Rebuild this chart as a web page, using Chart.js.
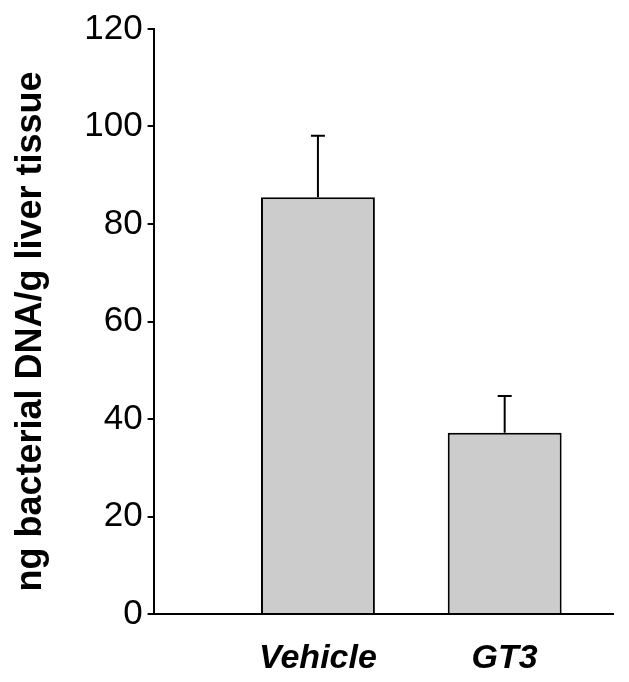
<!DOCTYPE html>
<html>
<head>
<meta charset="utf-8">
<script src="https://cdn.jsdelivr.net/npm/chart.js@4"></script>
<style>
  body { margin: 0; background: #ffffff; }
  #wrap { width: 629px; height: 682px; }
</style>
</head>
<body>
<div id="wrap"><canvas id="myChart"></canvas></div>
<script>
// chart values
var categories = ["Vehicle", "GT3"];
var means = [85.5, 37.2];
var errorsUp = [12.6, 7.5];
var yTicks = [0, 20, 40, 60, 80, 100, 120];

var barData = [];
for (let i = 0; i < categories.length; i++) {
    barData.push({ x: i, y: means[i] });
}

// draws the upper error bar with a small cap
var errorBarPlugin = {
    id: "errorBars",
    afterDatasetsDraw: function (chart) {
        let ctx = chart.ctx;
        let xs = chart.scales.x;
        let ys = chart.scales.y;
        ctx.save();
        ctx.strokeStyle = "#000000";
        ctx.lineWidth = 2;
        for (let i = 0; i < means.length; i++) {
            let px = xs.getPixelForValue(i);
            let top = ys.getPixelForValue(means[i] + errorsUp[i]);
            let base = ys.getPixelForValue(means[i]);
            ctx.beginPath();
            ctx.moveTo(px, base);
            ctx.lineTo(px, top);
            ctx.moveTo(px - 7, top);
            ctx.lineTo(px + 7, top);
            ctx.stroke();
        }
        ctx.restore();
    }
};

var ctx = document.getElementById("myChart").getContext("2d");
var myChart = new Chart(ctx, {
    type: "bar",
    data: {
        datasets: [{
            data: barData,
            backgroundColor: "#cccccc",
            borderColor: "#000000",
            borderWidth: 2,
            categoryPercentage: 1,
            barPercentage: 0.61
        }]
    },
    options: {
        responsive: true,
        maintainAspectRatio: false,
        animation: false,
        layout: { padding: { left: 9, right: 16, top: 29, bottom: 0 } },
        plugins: {
            legend: { display: false },
            tooltip: { enabled: false }
        },
        scales: {
            x: {
                type: "linear",
                min: -0.88,
                max: 1.58,
                offset: false,
                afterBuildTicks: function (scale) {
                    scale.ticks = categories.map(function (c, i) { return { value: i }; });
                },
                afterFit: function (scale) {
                    scale.height = 68;
                },
                grid: { display: false, drawTicks: false, offset: false },
                border: { display: true, color: "#000000", width: 2 },
                ticks: {
                    padding: 24,
                    maxRotation: 0,
                    color: "#000000",
                    font: { family: "Liberation Sans", size: 34, weight: "bold", style: "italic" },
                    callback: function (value) { return categories[value]; }
                }
            },
            y: {
                min: 0,
                max: 120,
                afterBuildTicks: function (scale) {
                    scale.ticks = yTicks.map(function (v) { return { value: v }; });
                },
                grid: { drawOnChartArea: false, drawTicks: true, tickLength: 6, color: "#000000", lineWidth: 2 },
                border: { display: true, color: "#000000", width: 2 },
                ticks: {
                    padding: 5,
                    color: "#000000",
                    font: { family: "Liberation Sans", size: 35 }
                },
                title: {
                    display: true,
                    text: "ng bacterial DNA/g liver tissue  ",
                    color: "#000000",
                    padding: { top: 0, bottom: 27 },
                    font: { family: "Liberation Sans", size: 36, weight: "bold" }
                }
            }
        }
    },
    plugins: [errorBarPlugin]
});
</script>
</body>
</html>
